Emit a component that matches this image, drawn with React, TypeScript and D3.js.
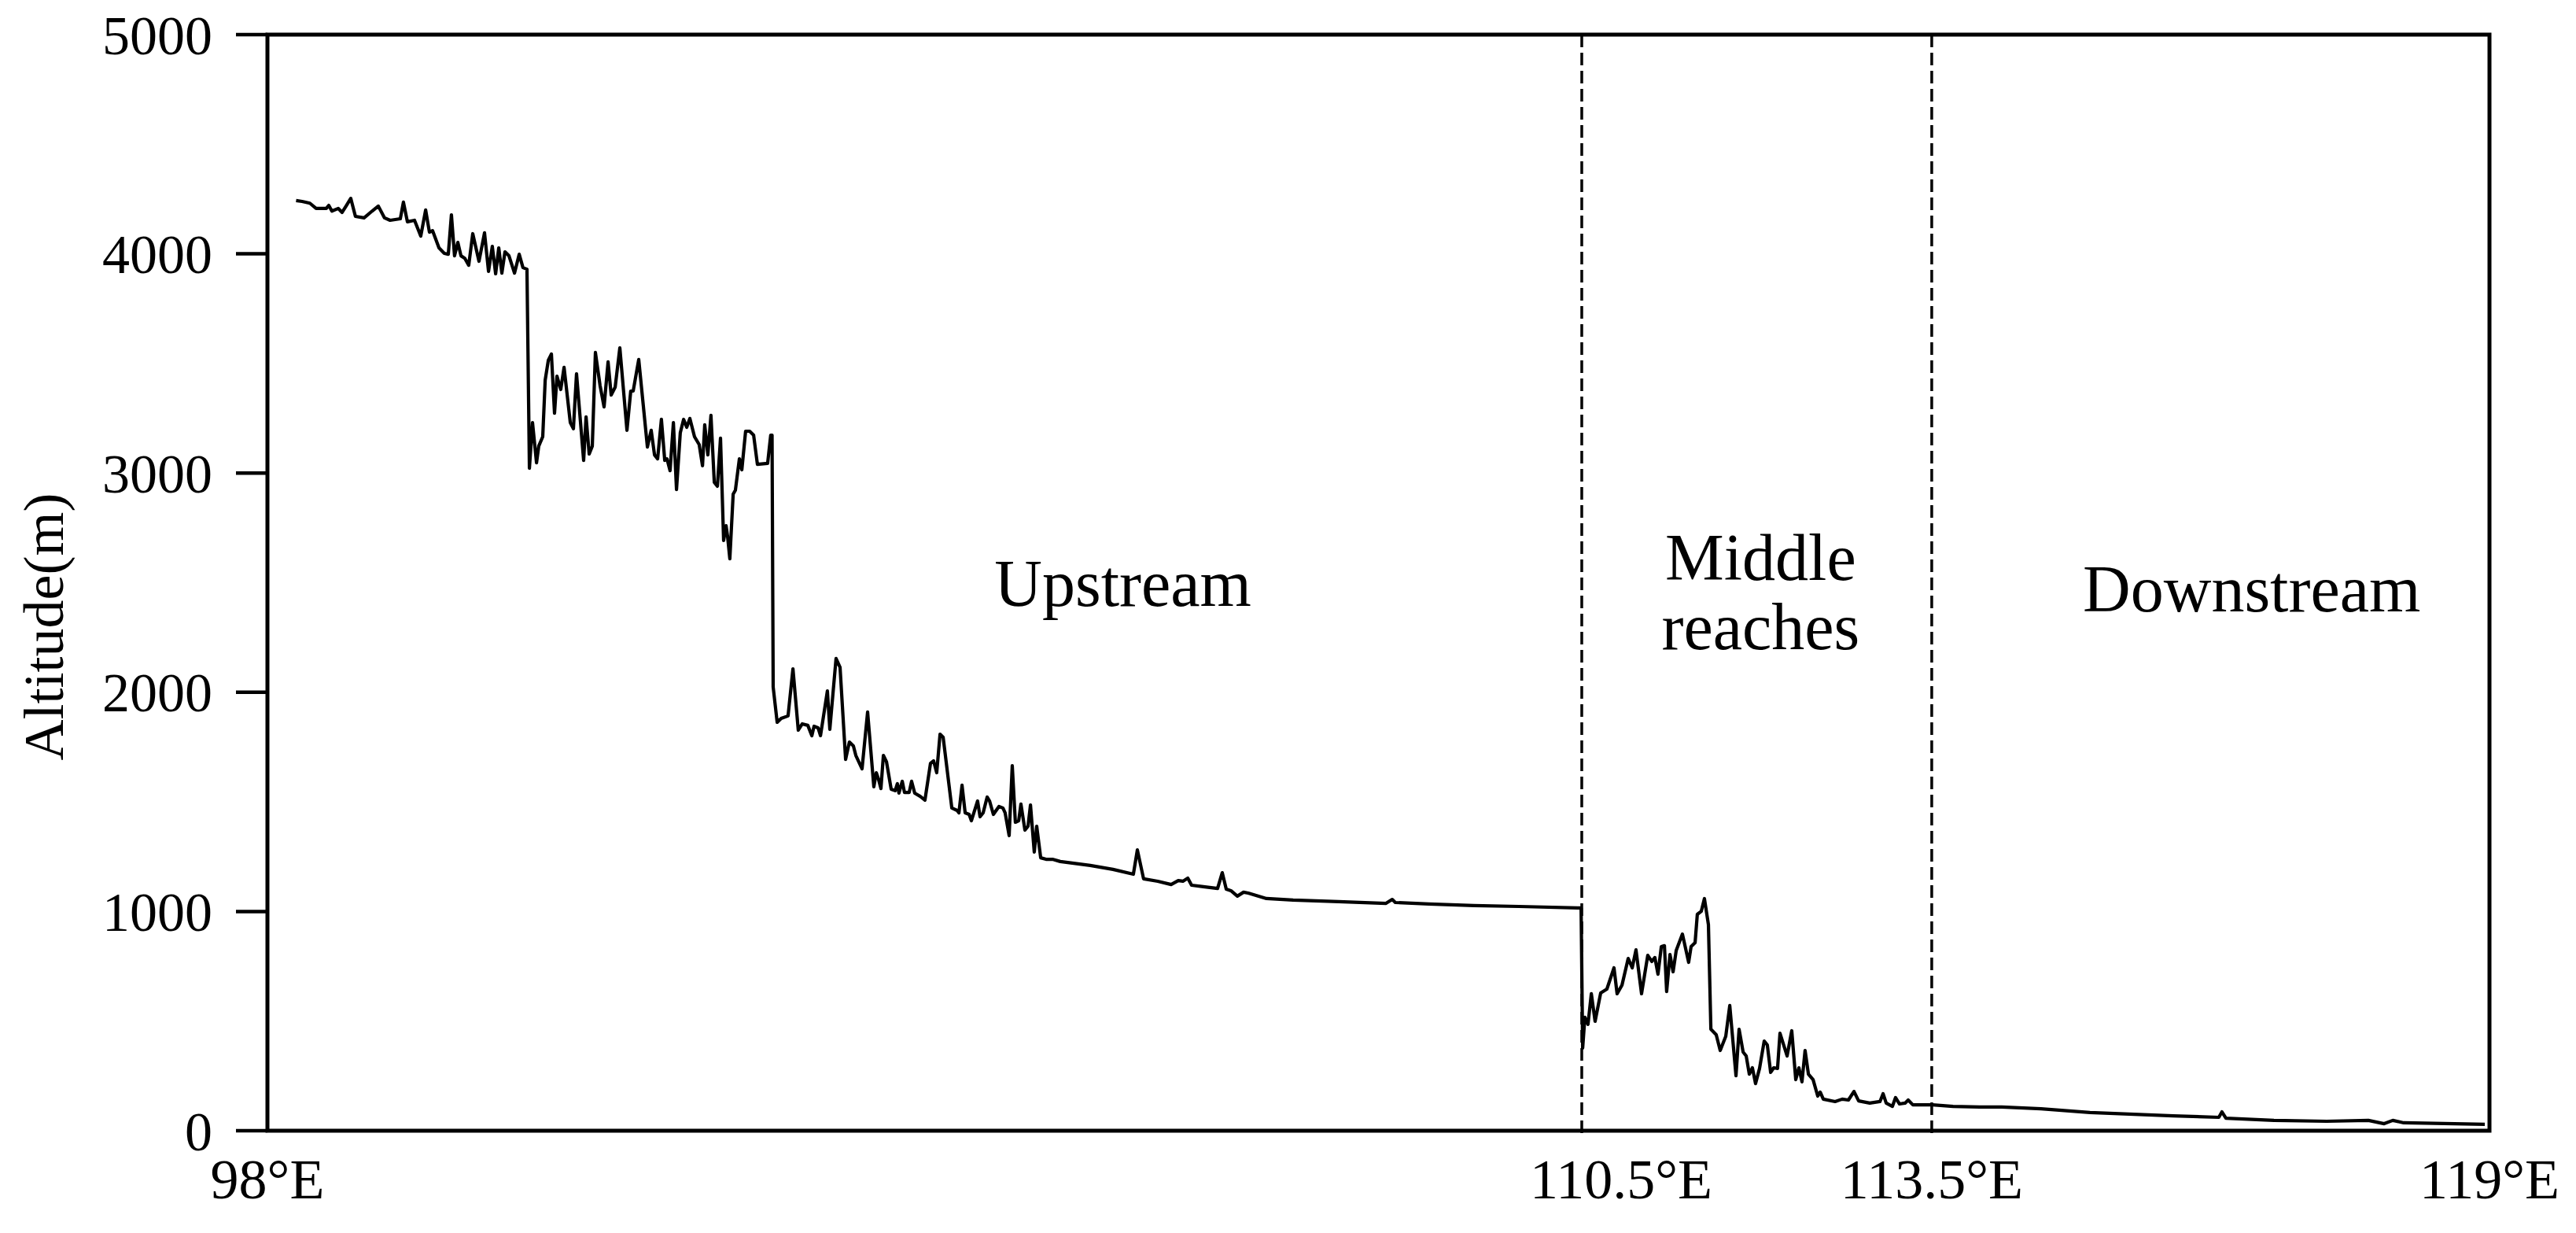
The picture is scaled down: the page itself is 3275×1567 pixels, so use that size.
import React from "react";
import * as d3 from "d3";

// position along the river profile, in % of the drawn length (98°E = 0, 119°E = 100)
// altitude in metres

const upstreamPos = [
  1.29, 1.56, 1.91, 2.19, 2.65, 2.76, 2.9, 3.19, 3.36, 3.54, 3.75, 3.96, 4.35, 4.71, 4.99, 5.27, 5.52, 5.98, 6.12, 6.3,
  6.62, 6.9, 7.12, 7.29, 7.43, 7.72, 7.96, 8.14, 8.28, 8.42, 8.57, 8.71, 8.88, 9.06, 9.24, 9.52, 9.77, 9.95, 10.12, 10.27,
  10.41, 10.55, 10.69, 10.87, 11.12, 11.33, 11.5, 11.68,
  11.79, 11.93, 12.11, 12.21, 12.39, 12.5, 12.64, 12.78, 12.92, 13.03, 13.2, 13.35, 13.63, 13.77, 13.91, 14.23, 14.34, 14.48, 14.62, 14.76,
  14.97, 15.15, 15.33, 15.47, 15.65, 15.86, 16.18, 16.35, 16.46, 16.71, 17.1, 17.27, 17.42, 17.56, 17.73, 17.88, 17.98, 18.12, 18.27, 18.41,
  18.58, 18.73, 18.87, 19.01, 19.22, 19.43, 19.58, 19.68, 19.82, 19.96, 20.11, 20.25, 20.39, 20.53, 20.64, 20.71, 20.81, 20.96, 21.06, 21.24,
  21.35, 21.52, 21.7, 21.88, 22.05, 22.51, 22.65, 22.71,
  22.76, 22.94, 23.12, 23.43, 23.65, 23.89, 24.07, 24.32, 24.5, 24.6, 24.78, 24.89, 25.2, 25.31, 25.59, 25.77, 26.02, 26.19, 26.37, 26.48,
  26.76, 27.01, 27.29, 27.4, 27.5, 27.61, 27.72, 27.86, 28.07, 28.25, 28.35, 28.42, 28.57, 28.67, 28.88, 28.99, 29.13, 29.38, 29.59, 29.84,
  29.98, 30.12, 30.27, 30.41, 30.8, 31.04, 31.12, 31.26, 31.4, 31.58, 31.68, 31.96, 32.07, 32.21, 32.39, 32.5, 32.67, 32.92, 33.1, 33.2,
  33.38, 33.52, 33.66, 33.81, 33.91, 34.09, 34.23, 34.34, 34.51, 34.62, 34.8, 35.04, 35.33, 35.68,
  37.03, 38.05, 38.97, 39.15, 39.43, 40.07, 40.67, 40.99, 41.2, 41.42, 41.59, 42.12, 42.76, 42.97, 43.15, 43.36, 43.65, 43.93, 44.14, 44.96,
  46.16, 48.21, 50.34, 50.62, 50.76, 52.28, 54.3, 56.32, 58.97, 59.12,
];
const upstreamAlt = [
  4243, 4239, 4231, 4207, 4207, 4221, 4195, 4207, 4189, 4218, 4253, 4171, 4164, 4195, 4218, 4164, 4153, 4160, 4236, 4146,
  4153, 4081, 4200, 4099, 4106, 4027, 4002, 3998, 4178, 3991, 4052, 3991, 3980, 3948, 4092, 3966, 4096, 3920, 4034, 3909,
  4027, 3912, 4009, 3991, 3912, 3998, 3937, 3930,
  3022, 3230, 3047, 3123, 3166, 3424, 3514, 3543, 3273, 3442, 3381, 3482, 3230, 3202, 3453, 3058, 3256, 3087, 3123, 3550,
  3399, 3302, 3507, 3356, 3392, 3571, 3195, 3374, 3374, 3518, 3119, 3195, 3083, 3065, 3245, 3058, 3065, 3011, 3230, 2925,
  3184, 3245, 3209, 3249, 3166, 3130, 3033, 3220, 3083, 3263, 2958, 2940, 3159, 2692, 2760, 2710, 2609, 2904, 2922, 3065,
  3015, 3191, 3191, 3173, 3040, 3044, 3173, 3173,
  2024, 1863, 1881, 1892, 2107, 1827, 1856, 1849, 1802, 1845, 1838, 1802, 2006, 1831, 2154, 2114, 1694, 1773, 1755, 1712,
  1651, 1910, 1569, 1633, 1604, 1561, 1712, 1683, 1558, 1551, 1583, 1540, 1594, 1543, 1543, 1594, 1540, 1525, 1508, 1676,
  1687, 1633, 1809, 1795, 1472, 1461, 1450, 1576, 1450, 1443, 1414, 1504, 1432, 1450, 1522, 1504, 1443, 1479, 1472, 1450,
  1346, 1665, 1407, 1414, 1490, 1371, 1389, 1486, 1271, 1389, 1245, 1238, 1238, 1228,
  1210, 1192, 1170, 1281, 1149, 1138, 1123, 1141, 1138, 1152, 1120, 1113, 1105, 1177, 1102, 1095, 1070, 1088, 1084, 1059,
  1052, 1045, 1037, 1055, 1041, 1034, 1027, 1023, 1016, 1016,
];

const middlePos = [
  59.19, 59.29, 59.43, 59.58, 59.75, 60.0, 60.28, 60.6, 60.74, 60.96, 61.24, 61.42, 61.59, 61.84, 62.12, 62.3, 62.44, 62.58, 62.73, 62.87,
  62.97, 63.12, 63.26, 63.4, 63.68, 63.96, 64.07, 64.25, 64.35, 64.53, 64.67, 64.85, 64.96, 65.2, 65.38, 65.63, 65.81, 66.09, 66.23, 66.41,
  66.55, 66.69, 66.83, 66.97, 67.15, 67.36, 67.5, 67.65, 67.79, 67.96, 68.07, 68.39, 68.6, 68.78, 68.92, 69.06, 69.2, 69.35, 69.56, 69.77,
  69.88, 70.02, 70.55, 70.87, 71.15, 71.4, 71.61, 72.11, 72.57, 72.71, 72.85, 73.13, 73.27, 73.45, 73.7, 73.84, 74.05,
];
const middleAlt = [
  377, 517, 485, 625, 499, 628, 646, 743, 625, 664, 786, 743, 825, 625, 800, 772, 790, 714, 840, 844,
  635, 804, 725, 822, 897, 768, 840, 858, 987, 1001, 1059, 940, 463, 438, 366, 431, 571, 251, 463, 359,
  341, 258, 287, 215, 284, 409, 391, 266, 287, 284, 445, 341, 456, 233, 287, 223, 366, 258, 233, 158,
  176, 144, 133, 144, 140, 179, 136, 126, 133, 169, 126, 111, 151, 122, 126, 140, 118,
];

const downstreamPos = [74.94, 75.86, 77.06, 78.05, 79.82, 82.02, 85.77, 87.82, 87.96, 88.14, 90.3, 92.67, 94.55, 95.26, 95.65, 96.14, 99.79];
const downstreamAlt = [118, 111, 108, 108, 100, 83, 68, 61, 86, 57, 47, 43, 47, 32, 47, 36, 29];

const altTicks = [0, 1000, 2000, 3000, 4000, 5000];
const lonTickPos = [0, 59.15, 74.9, 100];
const lonTickLabels = ["98°E", "110.5°E", "113.5°E", "119°E"];
const reachBounds = [59.15, 74.9];
const reachNames = [["Upstream"], ["Middle", "reaches"], ["Downstream"]];

const W = 3275;
const H = 1567;
const margin = { top: 44, right: 110, bottom: 130, left: 340 };
const font = "'Liberation Serif', 'Times New Roman', serif";

export default function App() {
  const x = d3.scaleLinear().domain([0, 100]).range([margin.left, W - margin.right]);
  const y = d3.scaleLinear().domain([0, 5000]).range([H - margin.bottom, margin.top]);

  const pos = [...upstreamPos, ...middlePos, ...downstreamPos];
  const alt = [...upstreamAlt, ...middleAlt, ...downstreamAlt];
  const pts: [number, number][] = pos.map((p, i) => [p, alt[i]]);

  const line = d3
    .line<[number, number]>()
    .x((d) => x(d[0]))
    .y((d) => y(d[1]));

  // label anchors in data units (position %, altitude of first baseline)
  const labelAt = [
    { p: 38.5, a: 2394 },
    { p: 67.2, a: 2513 },
    { p: 89.3, a: 2369 },
  ];
  // the 110.5°E label sits a little right of its boundary line in the original
  const tickLabelNudge = [0, 50, 0, 0];

  const x0 = x(0);
  const yBase = y(0);

  return (
    <svg
      width={W}
      height={H}
      style={{ position: "absolute", left: 0, top: 0, background: "#fff" }}
      fontFamily={font}
    >
      {/* reach boundaries */}
      {reachBounds.map((b) => (
        <line
          key={b}
          x1={x(b)}
          x2={x(b)}
          y1={y(5000)}
          y2={yBase + 6}
          stroke="#000"
          strokeWidth={3.5}
          strokeDasharray="16 7"
        />
      ))}

      {/* altitude profile */}
      <path d={line(pts) || ""} fill="none" stroke="#000" strokeWidth={4.2} strokeLinejoin="round" />

      {/* frame */}
      <rect
        x={x0}
        y={y(5000)}
        width={x(100) - x0}
        height={yBase - y(5000)}
        fill="none"
        stroke="#000"
        strokeWidth={5}
      />

      {/* y axis */}
      {altTicks.map((t) => (
        <g key={t}>
          <line x1={x0 - 40} x2={x0} y1={y(t)} y2={y(t)} stroke="#000" strokeWidth={4.5} />
          <text x={x0 - 70} y={y(t)} dy="0.35em" textAnchor="end" fontSize={70}>
            {t}
          </text>
        </g>
      ))}
      <text
        transform={`translate(80, ${(y(0) + y(5000)) / 2 + 56}) rotate(-90)`}
        textAnchor="middle"
        fontSize={72}
      >
        Altitude(m)
      </text>

      {/* x tick labels */}
      {lonTickPos.map((p, i) => (
        <text key={p} x={x(p) + tickLabelNudge[i]} y={yBase + 86} textAnchor="middle" fontSize={72}>
          {lonTickLabels[i]}
        </text>
      ))}

      {/* reach names */}
      {reachNames.map((lines, i) => (
        <text key={i} x={x(labelAt[i].p)} y={y(labelAt[i].a)} textAnchor="middle" fontSize={84}>
          {lines.map((s, j) => (
            <tspan key={s} x={x(labelAt[i].p)} dy={j === 0 ? 0 : 88}>
              {s}
            </tspan>
          ))}
        </text>
      ))}
    </svg>
  );
}
